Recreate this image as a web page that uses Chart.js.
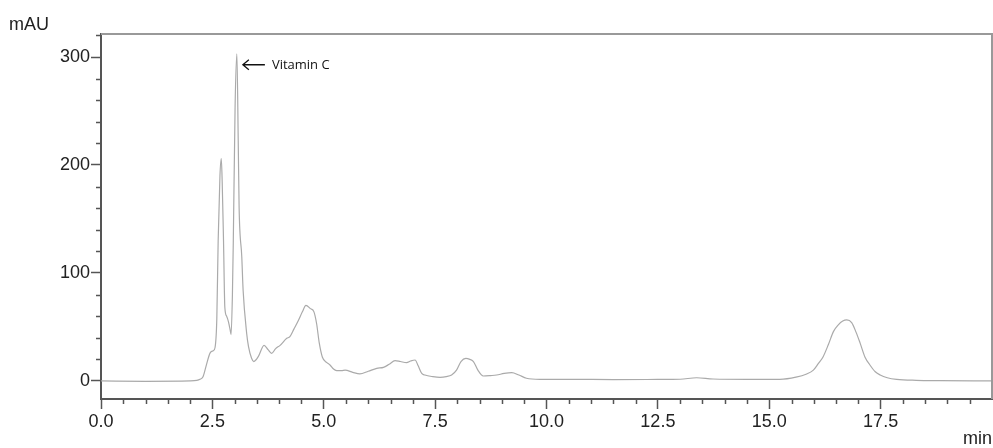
<!DOCTYPE html>
<html>
<head>
<meta charset="utf-8">
<title>Chromatogram</title>
<script src="https://cdn.jsdelivr.net/npm/chart.js@4.4.1/dist/chart.umd.min.js"></script>
<style>
    html, body { margin: 0; padding: 0; background: #fff; }
    #wrap { width: 993px; height: 448px; position: relative; }
</style>
</head>
<body>
<div id="wrap"><canvas id="chromatogram" width="993" height="448"></canvas></div>
<script>
// retention time (min) and detector signal (mAU)
const retentionTimes = [
    0, 1.0, 2.0, 2.15, 2.22, 2.29, 2.36, 2.45, 2.52, 2.56,
    2.60, 2.63, 2.67, 2.70, 2.72, 2.75, 2.78, 2.82, 2.86, 2.90,
    2.92, 2.95, 2.97, 3.01, 3.05, 3.08, 3.10, 3.16, 3.19, 3.27,
    3.31, 3.38, 3.43, 3.53, 3.66, 3.75, 3.83, 3.92, 4.02, 4.17,
    4.24, 4.33, 4.43, 4.52, 4.60, 4.70, 4.78, 4.84, 4.90, 4.97,
    5.07, 5.14, 5.22, 5.29, 5.40, 5.48, 5.65, 5.81, 6.00, 6.19,
    6.34, 6.47, 6.60, 6.72, 6.86, 6.95, 7.05, 7.12, 7.20, 7.27,
    7.45, 7.61, 7.75, 7.87, 7.98, 8.08, 8.19, 8.28, 8.36, 8.46,
    8.58, 8.75, 8.88, 9.05, 9.22, 9.38, 9.55, 9.85, 10.5, 11.5,
    12.5, 13.0, 13.37, 13.74, 14.5, 15.24, 15.6, 15.84, 15.99, 16.10,
    16.21, 16.33, 16.44, 16.55, 16.65, 16.74, 16.85, 16.95, 17.04, 17.15,
    17.26, 17.38, 17.49, 17.65, 17.86, 18.3, 18.83, 20
];
const absorbance = [
    0, -0.3, 0, 0.5, 1.5, 4, 14, 26, 28, 31,
    58, 130, 190, 206, 185, 130, 68, 60, 55, 47,
    43, 80, 130, 254, 303, 223, 161, 115, 84, 44,
    32, 21, 18, 22.5, 33, 29, 25.6, 30, 33, 39.5,
    41, 48, 56, 64, 70, 67, 64, 53, 35, 22,
    17, 14.8, 11, 9.6, 9.5, 10, 8, 6.5, 9, 11.7,
    12.6, 15.5, 18.8, 18, 17, 18.5, 19.4, 14, 7, 5.5,
    4, 3.4, 4, 5.5, 10, 18, 21, 20, 18, 10,
    4.6, 5, 5.5, 7, 7.7, 5.5, 2.5, 1.5, 1.5, 1.3,
    1.4, 1.6, 3, 1.8, 1.5, 1.5, 3.5, 6.5, 10, 16,
    22.5, 34, 45.7, 52, 55.5, 56.5, 54, 45, 35, 22,
    14.8, 8.5, 5.5, 3, 1.5, 0.6, 0.3, 0
];

const timeTicks = [0, 2.5, 5, 7.5, 10, 12.5, 15, 17.5];
const signalTicks = [0, 100, 200, 300];

const peakLabel = 'Vitamin C';
const peakTime = 3.05;
const peakSignal = 303;

const axisColor = '#555';
const frameColor = '#999';
const traceColor = '#aaa';
const labelFont = '18px "Liberation Sans", Arial, sans-serif';

// minor tick marks every 0.5 min and every 20 mAU, plus frame, units and the peak note
const decorations = {
    id: 'decorations',
    afterDraw(chart) {
        const ctx = chart.ctx;
        const x = chart.scales.x;
        const y = chart.scales.y;
        const area = chart.chartArea;

        ctx.save();
        ctx.strokeStyle = axisColor;
        ctx.lineWidth = 1.5;
        ctx.beginPath();
        for (let t = 0; t <= 20.001; t += 0.5) {
            if (Math.abs(t / 2.5 - Math.round(t / 2.5)) < 1e-6) continue;
            const px = Math.round(x.getPixelForValue(t)) + 0.5;
            ctx.moveTo(px, area.bottom);
            ctx.lineTo(px, area.bottom + 5);
        }
        for (let v = 20; v <= y.max; v += 20) {
            if (v % 100 === 0) continue;
            const py = Math.round(y.getPixelForValue(v)) + 0.5;
            ctx.moveTo(area.left, py);
            ctx.lineTo(area.left - 5, py);
        }
        ctx.stroke();

        // top and right frame
        ctx.strokeStyle = frameColor;
        ctx.lineWidth = 2;
        ctx.beginPath();
        ctx.moveTo(area.left, area.top);
        ctx.lineTo(area.right, area.top);
        ctx.lineTo(area.right, area.bottom);
        ctx.stroke();

        // units
        ctx.fillStyle = '#222';
        ctx.font = labelFont;
        ctx.textBaseline = 'alphabetic';
        ctx.textAlign = 'left';
        ctx.fillText('mAU', 9, 30);
        ctx.textAlign = 'right';
        ctx.fillText('min', 992, 444);

        // peak annotation
        const ax = x.getPixelForValue(peakTime) + 6;
        const ay = y.getPixelForValue(peakSignal) + 11;
        ctx.strokeStyle = '#111';
        ctx.lineWidth = 1.3;
        ctx.beginPath();
        ctx.moveTo(ax + 22, ay);
        ctx.lineTo(ax, ay);
        ctx.moveTo(ax + 6, ay - 5);
        ctx.lineTo(ax, ay);
        ctx.lineTo(ax + 6, ay + 5);
        ctx.stroke();
        ctx.fillStyle = '#111';
        ctx.font = '13px "Open Sans", sans-serif';
        ctx.textAlign = 'left';
        ctx.textBaseline = 'middle';
        ctx.fillText(peakLabel, ax + 29, ay + 1);
        ctx.restore();
    }
};

const points = retentionTimes.map((t, i) => ({ x: t, y: absorbance[i] }));

new Chart(document.getElementById('chromatogram'), {
    type: 'line',
    data: {
        datasets: [{
            data: points,
            borderColor: traceColor,
            borderWidth: 1.2,
            pointRadius: 0,
            fill: false,
            cubicInterpolationMode: 'monotone'
        }]
    },
    options: {
        responsive: false,
        animation: false,
        layout: { padding: { top: 34, right: 1, left: 0, bottom: 0 } },
        plugins: { legend: { display: false }, tooltip: { enabled: false } },
        scales: {
            x: {
                type: 'linear',
                min: 0,
                max: 20,
                afterBuildTicks: s => { s.ticks = timeTicks.map(v => ({ value: v })); },
                afterFit: s => { s.height = 49; },
                border: { display: true, color: axisColor, width: 2 },
                grid: { drawOnChartArea: false, color: axisColor, tickLength: 10, tickWidth: 1.5 },
                ticks: {
                    color: '#222',
                    font: { family: '"Liberation Sans", Arial, sans-serif', size: 18 },
                    padding: 2,
                    maxRotation: 0,
                    autoSkip: false,
                    callback: v => v.toFixed(1)
                }
            },
            y: {
                min: -16.7,
                max: 321.3,
                afterBuildTicks: s => { s.ticks = signalTicks.map(v => ({ value: v })); },
                afterFit: s => { s.width = 101; },
                border: { display: true, color: axisColor, width: 2 },
                grid: { drawOnChartArea: false, color: axisColor, tickLength: 10, tickWidth: 1.5 },
                ticks: {
                    color: '#222',
                    font: { family: '"Liberation Sans", Arial, sans-serif', size: 18 },
                    padding: 1,
                    callback: v => String(v)
                }
            }
        }
    },
    plugins: [decorations]
});
</script>
</body>
</html>
